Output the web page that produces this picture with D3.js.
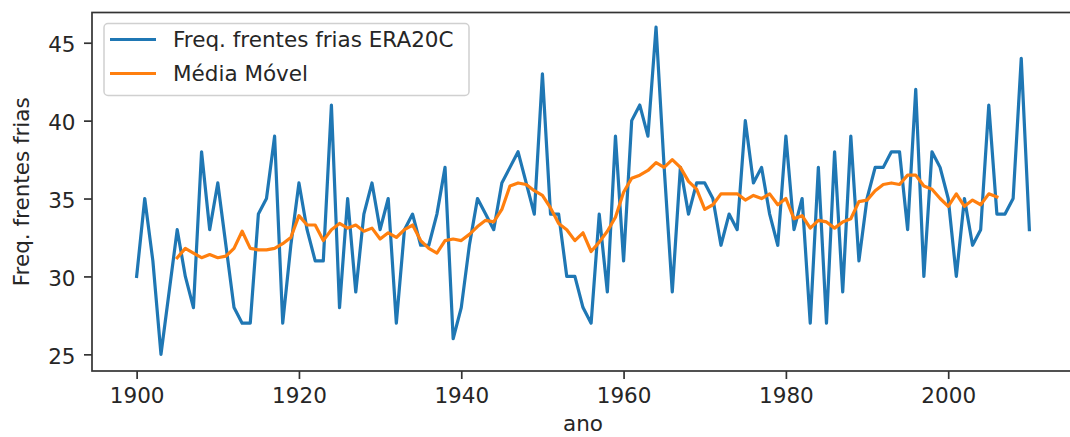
<!DOCTYPE html>
<html>
<head>
<meta charset="utf-8">
<script src="https://d3js.org/d3.v7.min.js"></script>
<style>
  body { margin: 0; background: #fff; }
  text { font-family: "DejaVu Sans", sans-serif; fill: #262626; }
</style>
</head>
<body>
<svg id="chart" width="1070" height="437"></svg>
<script>
// frequency of cold fronts per year (ERA20C), 1900-2010
const firstYear = 1900;
const freqFrentes = [
  30, 35, 31, 25, 29, 33, 30, 28, 38, 33,
  36, 32, 28, 27, 27, 34, 35, 39, 27, 32,
  36, 33, 31, 31, 41, 28, 35, 29, 34, 36,
  33, 35, 27, 33, 34, 32, 32, 34, 37, 26,
  28, 32, 35, 34, 33, 36, 37, 38, 36, 34,
  43, 34, 34, 30, 30, 28, 27, 34, 29, 39,
  31, 40, 41, 39, 46, 37, 29, 37, 34, 36,
  36, 35, 32, 34, 33, 40, 36, 37, 34, 32,
  39, 33, 35, 27, 37, 27, 38, 29, 39, 31,
  35, 37, 37, 38, 38, 33, 42, 30, 38, 37,
  35, 30, 35, 32, 33, 41, 34, 34, 35, 44,
  33
];

// moving average, 1905-2006
const mmStart = 1905;
const mediaMovel = [
  31.2, 31.8, 31.5, 31.2, 31.4, 31.2, 31.3, 31.8, 32.9, 31.8,
  31.7, 31.7, 31.8, 32.1, 32.5, 33.9, 33.3, 33.3, 32.3, 33.0,
  33.4, 33.1, 33.3, 32.9, 33.1, 32.4, 32.8, 32.5, 33.0, 33.3,
  32.3, 31.8, 31.5, 32.3, 32.4, 32.3, 32.7, 33.2, 33.6, 33.5,
  34.3, 35.8, 36.0, 35.9, 35.5, 35.2, 34.4, 33.4, 33.0, 32.3,
  32.8, 31.6, 32.2, 32.9, 33.8, 35.4, 36.3, 36.5, 36.8, 37.3,
  37.0, 37.5, 37.0, 36.1, 35.6, 34.3, 34.6, 35.3, 35.3, 35.3,
  34.9, 35.2, 35.0, 35.3, 34.6, 35.0, 33.7, 33.9, 33.1, 33.6,
  33.5, 33.1, 33.5, 33.7, 34.8, 34.9, 35.5, 35.9, 36.0, 35.9,
  36.5, 36.5, 35.8, 35.6, 35.0, 34.5, 35.3, 34.5, 34.9, 34.6,
  35.3, 35.1
];

const xTicks = [1900, 1920, 1940, 1960, 1980, 2000];
const yTicks = [25, 30, 35, 40, 45];
const seriesNames = ["Freq. frentes frias ERA20C", "Média Móvel"];
const seriesColors = ["#1f77b4", "#ff7f0e"];

const svg = d3.select("#chart");
const fontSize = 21.5;

// plot area (right spine falls just outside the picture)
const plotLeft = 92, plotRight = 1074, plotTop = 12.5, plotBottom = 371;

const x = d3.scaleLinear().domain([1894.5, 2015.5]).range([plotLeft, plotRight]);
const y = d3.scaleLinear().domain([23.93, 46.94]).range([plotBottom, plotTop]);

const line = d3.line()
  .x(d => x(d[0]))
  .y(d => y(d[1]));

const blueData = freqFrentes.map((v, i) => [firstYear + i, v]);
const orangeData = mediaMovel.map((v, i) => [mmStart + i, v]);

svg.append("path")
  .datum(blueData)
  .attr("fill", "none")
  .attr("stroke", seriesColors[0])
  .attr("stroke-width", 3.2)
  .attr("stroke-linejoin", "round")
  .attr("stroke-linecap", "square")
  .attr("d", line);

svg.append("path")
  .datum(orangeData)
  .attr("fill", "none")
  .attr("stroke", seriesColors[1])
  .attr("stroke-width", 3.2)
  .attr("stroke-linejoin", "round")
  .attr("stroke-linecap", "square")
  .attr("d", line);

// axes
const xAxis = svg.append("g")
  .attr("transform", `translate(0,${plotBottom})`)
  .call(d3.axisBottom(x).tickValues(xTicks).tickFormat(d3.format("d")).tickSize(8).tickPadding(9));

const yAxis = svg.append("g")
  .attr("transform", `translate(${plotLeft},0)`)
  .call(d3.axisLeft(y).tickValues(yTicks).tickSize(8).tickPadding(8.5));

[xAxis, yAxis].forEach(g => {
  g.select(".domain").remove();
  g.selectAll(".tick line").attr("stroke", "#333").attr("stroke-width", 1.7);
  g.selectAll(".tick text")
    .attr("fill", "#262626")
    .style("font-family", "'DejaVu Sans', sans-serif")
    .style("font-size", fontSize + "px");
});
yAxis.selectAll(".tick text").attr("dy", "0.43em");

// spines
svg.append("rect")
  .attr("x", plotLeft)
  .attr("y", plotTop)
  .attr("width", plotRight - plotLeft)
  .attr("height", plotBottom - plotTop)
  .attr("fill", "none")
  .attr("stroke", "#333")
  .attr("stroke-width", 1.7);

// axis labels
svg.append("text")
  .attr("x", (plotLeft + plotRight) / 2)
  .attr("y", 431)
  .attr("text-anchor", "middle")
  .style("font-size", fontSize + "px")
  .text("ano");

svg.append("text")
  .attr("transform", `translate(29,${(plotTop + plotBottom) / 2}) rotate(-90)`)
  .attr("text-anchor", "middle")
  .style("font-size", fontSize + "px")
  .text("Freq. frentes frias");

// legend
const legend = svg.append("g");
legend.append("rect")
  .attr("x", 104)
  .attr("y", 23.5)
  .attr("width", 365)
  .attr("height", 72)
  .attr("rx", 4)
  .attr("fill", "#fff")
  .attr("fill-opacity", 0.8)
  .attr("stroke", "#d0d0d0")
  .attr("stroke-width", 1.5);

seriesNames.forEach((name, i) => {
  const ly = 39.5 + i * 34;
  legend.append("line")
    .attr("x1", 110).attr("x2", 156)
    .attr("y1", ly).attr("y2", ly)
    .attr("stroke", seriesColors[i])
    .attr("stroke-width", 3.2);
  legend.append("text")
    .attr("x", 173)
    .attr("y", ly)
    .attr("dy", "0.36em")
    .style("font-size", fontSize + "px")
    .text(name);
});
</script>
</body>
</html>
